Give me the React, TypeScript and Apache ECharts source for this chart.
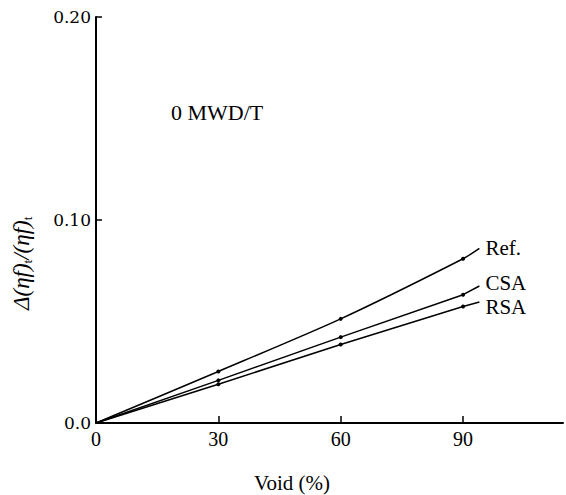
import React, { useEffect, useRef } from "react";
import * as echarts from "echarts";

const voidPct = [0, 30, 60, 90, 94];
const refValues = [0, 0.0254, 0.0513, 0.0809, 0.086];
const csaValues = [0, 0.021, 0.0423, 0.0632, 0.0675];
const rsaValues = [0, 0.0191, 0.0387, 0.0574, 0.0596];
const seriesNames = ["Ref.", "CSA", "RSA"];
const yTicks = [0, 0.1, 0.2];
const xTicks = [0, 30, 60, 90];

const SERIF = "'Liberation Serif', 'DejaVu Serif', serif";

function makeData(vals: number[]) {
  return vals.map((v, i) => {
    const hide = i === 0 || i === vals.length - 1;
    return hide ? { value: [voidPct[i], v], symbol: "none" } : { value: [voidPct[i], v] };
  });
}

export default function App() {
  const ref = useRef<HTMLDivElement>(null);
  useEffect(() => {
    if (!ref.current) return;
    const chart = echarts.init(ref.current, undefined, { renderer: "svg" });
    const all = [refValues, csaValues, rsaValues];
    const labelOffsets = [[0, 0], [0, -3], [0, 5]];
    chart.setOption({
      animation: false,
      backgroundColor: "#ffffff",
      grid: { left: 96, right: 3, top: 17, bottom: 72, containLabel: false },
      xAxis: {
        type: "value",
        min: xTicks[0],
        max: 114.5,
        interval: 30,
        axisLine: { show: true, lineStyle: { color: "#000", width: 2 } },
        axisTick: { show: true, inside: true, length: 7, lineStyle: { color: "#000", width: 1.5 } },
        axisLabel: {
          show: true,
          showMaxLabel: false,
          color: "#000",
          fontFamily: SERIF,
          fontSize: 20,
          margin: 6,
        },
        splitLine: { show: false },
      },
      yAxis: {
        type: "value",
        min: yTicks[0],
        max: yTicks[yTicks.length - 1],
        interval: 0.1,
        axisLine: { show: true, lineStyle: { color: "#000", width: 2 } },
        axisTick: { show: true, inside: true, length: 6, lineStyle: { color: "#000", width: 1.5 } },
        axisLabel: {
          color: "#000",
          fontFamily: "'DejaVu Serif', serif",
          fontSize: 17,
          margin: 5,
          formatter: (v: number) => (v === 0 ? "0.0" : v.toFixed(2)),
        },
        splitLine: { show: false },
      },
      series: all.map((vals, k) => ({
        type: "line",
        name: seriesNames[k],
        data: makeData(vals),
        smooth: k === 0 ? 0.25 : false,
        symbol: "circle",
        symbolSize: 4,
        showSymbol: true,
        lineStyle: { color: "#000", width: 1.5 },
        itemStyle: { color: "#000" },
        endLabel: {
          show: true,
          formatter: seriesNames[k],
          color: "#000",
          fontFamily: SERIF,
          fontSize: 21,
          lineHeight: 20,
          distance: 6,
          offset: labelOffsets[k],
        },
      })),
      graphic: [
        {
          type: "text",
          left: 171,
          top: 101,
          style: { text: "0 MWD/T", fill: "#000", font: `22px ${SERIF}` },
        },
        {
          type: "text",
          left: 254,
          top: 472,
          style: { text: "Void (%)", fill: "#000", font: `21px ${SERIF}` },
        },
        {
          type: "text",
          x: 9,
          y: 310,
          rotation: Math.PI / 2,
          style: {
            text: "{a|Δ(ηf)}{s|t}{a|/(ηf)}{s|t}",
            fill: "#000",
            rich: {
              a: { fontFamily: SERIF, fontSize: 23, fill: "#000", fontStyle: "italic" },
              s: { fontFamily: SERIF, fontSize: 13, fill: "#000", verticalAlign: "bottom", padding: [12, 0, 0, 0] },
            },
          },
        },
      ],
    });
    return () => chart.dispose();
  }, []);
  return (
    <div
      ref={ref}
      style={{ position: "fixed", left: 0, top: 0, width: 566, height: 495, background: "#fff" }}
    />
  );
}
